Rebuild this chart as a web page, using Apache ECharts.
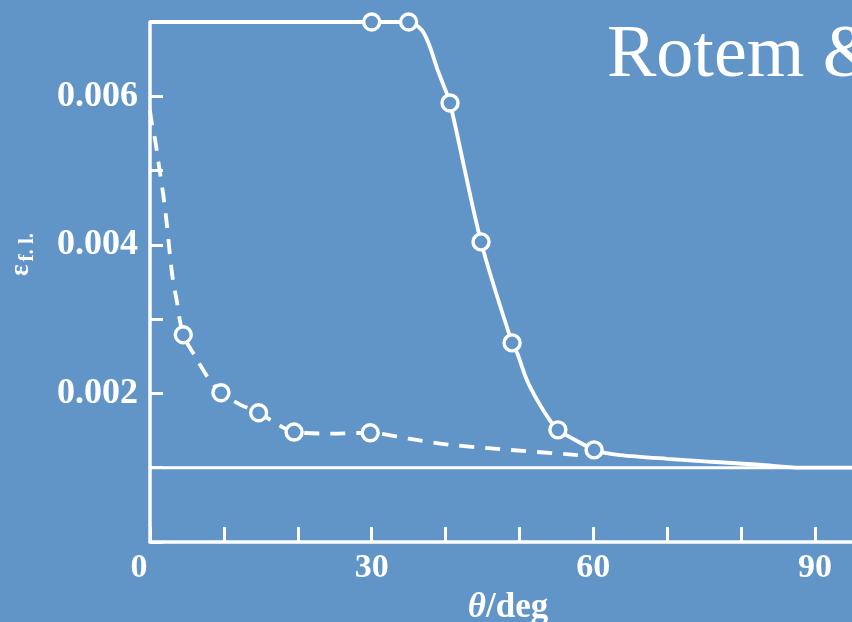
<!DOCTYPE html>
<html>
<head>
<meta charset="utf-8">
<script src="https://cdn.jsdelivr.net/npm/echarts@6/dist/echarts.min.js"></script>
<style>
  html, body { margin: 0; padding: 0; background: #6195c8; }
  #chart { width: 852px; height: 622px; }
</style>
</head>
<body>
<div id="chart"></div>
<script>
// Flow-limited strain vs. angle
const solidMeasured = [[30, 0.0070], [35, 0.0070], [40.6, 0.00591], [44.8, 0.00404], [49.0, 0.00268], [55.2, 0.00151], [60.1, 0.00124]];
const solidCurve = [
  [0, 0.0070], [30, 0.0070], [35, 0.0070], [36.8, 0.00689], [37.9, 0.00666], [38.8, 0.00639],
  [39.6, 0.00618], [40.6, 0.00591], [44.8, 0.00404], [49.0, 0.00268], [49.7, 0.00254],
  [51.0, 0.00218], [52.4, 0.00191], [54.1, 0.00164], [55.2, 0.00151], [57.6, 0.00137],
  [60.1, 0.00124], [61.0, 0.00121], [63.6, 0.00117], [70, 0.00112], [76, 0.00108],
  [82.5, 0.00104], [88, 0.00100], [95, 0.00100]
];
const dashedMeasured = [[4.5, 0.00279], [9.6, 0.00201], [14.7, 0.00174], [19.5, 0.00148], [29.8, 0.00147]];
const dashedCurve = [
  [0, 0.00581], [0.3, 0.00561], [0.7, 0.00541], [1.1, 0.00514], [1.8, 0.00467], [2.3, 0.00426],
  [2.7, 0.00386], [3.1, 0.00353], [3.6, 0.00326], [4.5, 0.00279], [6.4, 0.00245], [8.0, 0.00219],
  [9.6, 0.00201], [12.2, 0.00185], [14.7, 0.00174], [17.0, 0.00160], [19.5, 0.00148],
  [24.5, 0.00146], [29.8, 0.00147], [35, 0.00139], [40.5, 0.00131], [47.4, 0.00125], [58, 0.00117]
];
const baseline = [[0, 0.001], [95, 0.001]];
const xTickLabels = [0, 30, 60, 90];
const yTickLabels = [0.002, 0.004, 0.006];

const bg = '#6195c8';
const fg = '#ffffff';
const tickFont = 'Liberation Serif';

const chart = echarts.init(document.getElementById('chart'), null, { renderer: 'canvas' });

const circleStyle = {
  type: 'scatter',
  symbol: 'circle',
  symbolSize: 16,
  itemStyle: { color: bg, borderColor: fg, borderWidth: 3.4, opacity: 1 },
  z: 5,
  silent: true
};

chart.setOption({
  backgroundColor: bg,
  animation: false,
  grid: { left: 150, right: 0, top: 22, bottom: 80, containLabel: false, outerBoundsMode: 'none' },
  xAxis: {
    type: 'value',
    min: 0,
    max: 95,
    interval: 10,
    axisLine: { show: true, onZero: false, lineStyle: { color: fg, width: 3.5 } },
    axisTick: { show: true, inside: true, length: 15, lineStyle: { color: fg, width: 3 } },
    splitLine: { show: false },
    axisLabel: {
      color: fg,
      fontFamily: tickFont,
      fontWeight: 'bold',
      fontSize: 34,
      margin: 9,
      showMaxLabel: false,
      formatter: v => xTickLabels.indexOf(v) >= 0 ? (v === 0 ? '{z|0}' : String(v)) : '',
      rich: { z: { color: fg, fontFamily: tickFont, fontWeight: 'bold', fontSize: 34, padding: [0, 22, 0, 0] } }
    },
    name: '{t|θ}{d|/deg}',
    nameLocation: 'middle',
    nameGap: 48,
    nameTextStyle: {
      rich: {
        t: { color: fg, fontFamily: tickFont, fontStyle: 'italic', fontWeight: 'bold', fontSize: 35 },
        d: { color: fg, fontFamily: tickFont, fontWeight: 'bold', fontSize: 35 }
      },
      padding: [0, 0, 0, 14]
    }
  },
  yAxis: {
    type: 'value',
    min: 0,
    max: 0.007,
    interval: 0.001,
    axisLine: { show: true, onZero: false, lineStyle: { color: fg, width: 3.5 } },
    axisTick: { show: true, inside: true, length: 13, lineStyle: { color: fg, width: 3 } },
    splitLine: { show: false },
    axisLabel: {
      color: fg,
      fontFamily: tickFont,
      fontWeight: 'bold',
      fontSize: 36,
      margin: 12,
      formatter: v => {
        const hit = yTickLabels.find(t => Math.abs(t - v) < 1e-9);
        return hit !== undefined ? hit.toFixed(3) : '';
      }
    }
  },
  graphic: [
    {
      type: 'text',
      left: 607,
      top: 20,
      style: { text: 'Rotem & Vinograd', fill: fg, font: '74px "Liberation Serif"' },
      silent: true
    },
    {
      type: 'text',
      x: 5,
      y: 276,
      rotation: Math.PI / 2,
      style: {
        text: '{e|ε}{s|f. l.}',
        rich: {
          e: { fill: fg, font: 'bold 27px "Liberation Serif"' },
          s: { fill: fg, font: 'bold 21px "Liberation Serif"', padding: [12, 0, 0, 3] }
        }
      },
      silent: true
    }
  ],
  series: [
    {
      type: 'line',
      data: baseline,
      symbol: 'none',
      lineStyle: { color: fg, width: 3 },
      silent: true,
      z: 2
    },
    {
      type: 'line',
      data: solidCurve,
      symbol: 'none',
      smooth: 0.3,
      lineStyle: { color: fg, width: 3.8 },
      silent: true,
      z: 3
    },
    {
      type: 'line',
      data: dashedCurve,
      symbol: 'none',
      smooth: 0.3,
      lineStyle: { color: fg, width: 3.8, type: [15, 11] },
      silent: true,
      z: 3
    },
    Object.assign({ data: solidMeasured }, circleStyle),
    Object.assign({ data: dashedMeasured }, circleStyle)
  ]
});
</script>
</body>
</html>
